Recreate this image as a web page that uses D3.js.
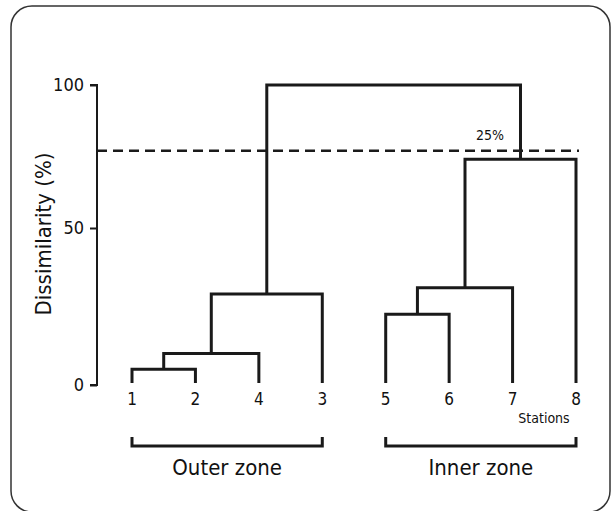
<!DOCTYPE html>
<html>
<head>
<meta charset="utf-8">
<script src="https://cdn.jsdelivr.net/npm/d3@7"></script>
<style>
  body { margin: 0; background: #fff; }
  svg { display: block; font-family: "DejaVu Sans Condensed", "DejaVu Sans", sans-serif; }
</style>
</head>
<body>
<svg id="chart" width="611" height="511"></svg>
<script>
// leaf order along the x axis
var stations = ["1", "2", "4", "3", "5", "6", "7", "8"];
// each merge joins a left and a right node at a dissimilarity height
var linkName   = ["12", "124", "1243", "56", "567", "5678", "all"];
var linkLeft   = ["1", "12", "124", "5", "56", "567", "1243"];
var linkRight  = ["2", "4", "3", "6", "7", "8", "5678"];
var linkHeight = [5, 10, 29, 22.5, 31, 74, 100];
var yTicks = [0, 50, 100];
var cutLevel = 77;
var cutLabel = "25%";
var zoneNames = ["Outer zone", "Inner zone"];
var zoneFrom = ["1", "5"];
var zoneTo = ["3", "8"];

var svg = d3.select("#chart");

// outer frame
svg.append("rect")
  .attr("x", 11).attr("y", 6)
  .attr("width", 599).attr("height", 506)
  .attr("rx", 21).attr("ry", 21)
  .attr("fill", "none")
  .attr("stroke", "#333")
  .attr("stroke-width", 1.5);

var x = d3.scalePoint().domain(stations).range([132, 576]);
// the drawn axis is not evenly spaced, 0-50 is taller than 50-100
var y = d3.scaleLinear().domain([0, 50, 100]).range([385, 228, 85]);

// position of every node
var pos = {};
stations.forEach(function(s) { pos[s] = { x: x(s), h: 0 }; });
linkName.forEach(function(n, i) {
  var l = pos[linkLeft[i]], r = pos[linkRight[i]];
  pos[n] = { x: (l.x + r.x) / 2, h: linkHeight[i] };
});

// y axis
var axis = svg.append("g")
  .attr("transform", "translate(97,0)")
  .call(d3.axisLeft(y).tickValues(yTicks).tickSize(7).tickPadding(6));
axis.select(".domain").attr("stroke", "#1a1a1a").attr("stroke-width", 2)
  .attr("d", "M-7," + y(100) + "H0V" + y(0) + "H-7");
axis.selectAll(".tick line").attr("stroke", "#1a1a1a").attr("stroke-width", 2);
axis.selectAll(".tick text")
  .attr("font-size", 18)
  .attr("font-family", "DejaVu Sans Condensed")
  .attr("fill", "#111");

svg.append("text")
  .attr("transform", "translate(51," + 234 + ") rotate(-90)")
  .attr("text-anchor", "middle")
  .attr("font-size", 22)
  .attr("fill", "#111")
  .text("Dissimilarity (%)");

// cut line
svg.append("line")
  .attr("x1", 97).attr("x2", 579)
  .attr("y1", y(cutLevel)).attr("y2", y(cutLevel))
  .attr("stroke", "#1a1a1a")
  .attr("stroke-width", 2.5)
  .attr("stroke-dasharray", "10,6");

svg.append("text")
  .attr("x", 490).attr("y", y(cutLevel) - 11)
  .attr("text-anchor", "middle")
  .attr("font-size", 14)
  .attr("fill", "#111")
  .text(cutLabel);

// dendrogram elbows
svg.selectAll(".link")
  .data(linkName)
  .join("path")
  .attr("class", "link")
  .attr("fill", "none")
  .attr("stroke", "#1a1a1a")
  .attr("stroke-width", 3)
  .attr("d", function(n, i) {
    var l = pos[linkLeft[i]], r = pos[linkRight[i]], h = y(linkHeight[i]);
    return "M" + l.x + "," + (l.h == 0 ? y(0) - 2 : y(l.h)) +
           "V" + h + "H" + r.x +
           "V" + (r.h == 0 ? y(0) - 2 : y(r.h));
  });

// station labels
svg.selectAll(".station")
  .data(stations)
  .join("text")
  .attr("class", "station")
  .attr("x", d => x(d))
  .attr("y", 405)
  .attr("text-anchor", "middle")
  .attr("font-size", 17)
  .attr("fill", "#111")
  .text(d => d);

svg.append("text")
  .attr("x", 544).attr("y", 423)
  .attr("text-anchor", "middle")
  .attr("font-size", 14)
  .attr("fill", "#111")
  .text("Stations");

// zone brackets
zoneNames.forEach(function(z, i) {
  var x0 = x(zoneFrom[i]), x1 = x(zoneTo[i]);
  svg.append("path")
    .attr("fill", "none")
    .attr("stroke", "#1a1a1a")
    .attr("stroke-width", 3)
    .attr("d", "M" + x0 + ",437V446H" + x1 + "V437");
  svg.append("text")
    .attr("x", (x0 + x1) / 2).attr("y", 475)
    .attr("text-anchor", "middle")
    .attr("font-size", 22)
    .attr("fill", "#111")
    .text(z);
});
</script>
</body>
</html>
